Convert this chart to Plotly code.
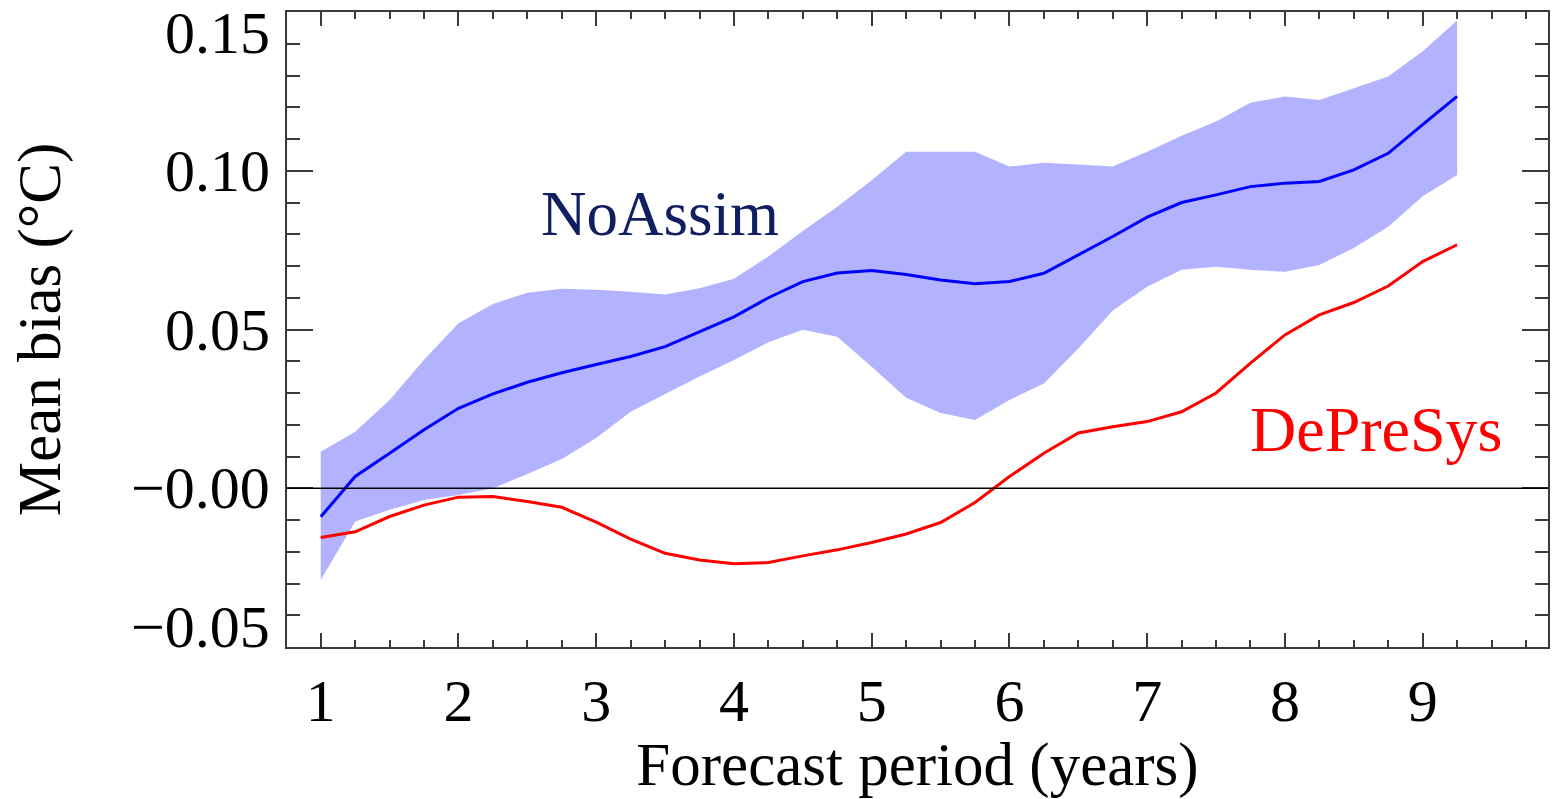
import plotly.graph_objects as go

# Forecast period (years), quarterly steps
periods = [1.0, 1.25, 1.5, 1.75, 2.0, 2.25, 2.5, 2.75, 3.0, 3.25, 3.5, 3.75,
           4.0, 4.25, 4.5, 4.75, 5.0, 5.25, 5.5, 5.75, 6.0, 6.25, 6.5, 6.75,
           7.0, 7.25, 7.5, 7.75, 8.0, 8.25, 8.5, 8.75, 9.0, 9.25]

# NoAssim ensemble mean bias (degC)
noassim_mean = [-0.009, 0.0037, 0.011, 0.0184, 0.0252, 0.0297, 0.0334, 0.0364,
                0.039, 0.0415, 0.0446, 0.0493, 0.054, 0.060, 0.0651, 0.0678,
                0.0686, 0.0673, 0.0656, 0.0644, 0.0651, 0.0677, 0.0735, 0.0793,
                0.0854, 0.0900, 0.0924, 0.0950, 0.0961, 0.0966, 0.1003, 0.1055,
                0.1145, 0.1234]

# NoAssim spread (upper / lower bounds)
noassim_upper = [0.0115, 0.0178, 0.0278, 0.0405, 0.052, 0.058, 0.0616, 0.0628,
                 0.0625, 0.0619, 0.061, 0.063, 0.066, 0.073, 0.081, 0.0887,
                 0.097, 0.106, 0.106, 0.106, 0.1013, 0.1025, 0.102, 0.1013,
                 0.106, 0.111, 0.1155, 0.1214, 0.1234, 0.1223, 0.126, 0.1297,
                 0.1376, 0.1473]
noassim_lower = [-0.0289, -0.0105, -0.0068, -0.0037, -0.0021, 0.0, 0.0045, 0.0092,
                 0.0158, 0.0241, 0.0297, 0.0352, 0.0404, 0.046, 0.0499, 0.0477,
                 0.0383, 0.0285, 0.0237, 0.0215, 0.0278, 0.033, 0.044, 0.056,
                 0.0635, 0.0688, 0.0698, 0.0688, 0.0682, 0.0703, 0.0757, 0.0824,
                 0.092, 0.0987]

# DePreSys mean bias (degC)
depresys_mean = [-0.0155, -0.0137, -0.0089, -0.0053, -0.0028, -0.0026, -0.0042, -0.006,
                 -0.0107, -0.016, -0.0205, -0.0226, -0.0238, -0.0234, -0.0213, -0.0194,
                 -0.0171, -0.0144, -0.0108, -0.0045, 0.0037, 0.011, 0.0174, 0.0194,
                 0.021, 0.0241, 0.030, 0.0394, 0.0483, 0.0546, 0.0585, 0.0637,
                 0.0714, 0.0767]

y_tick_vals = [-0.05, 0.0, 0.05, 0.10, 0.15]
y_tick_text = ["\u22120.05", "\u22120.00", "0.05", "0.10", "0.15"]
x_tick_vals = [1, 2, 3, 4, 5, 6, 7, 8, 9]
x_tick_text = ["1", "2", "3", "4", "5", "6", "7", "8", "9"]

FONT = "Liberation Serif, Times New Roman, serif"
AXIS_COLOR = "#3a3a3a"

fig = go.Figure()

# spread band
fig.add_trace(go.Scatter(x=periods, y=noassim_lower, mode="lines",
                         line=dict(width=0), hoverinfo="skip", showlegend=False))
fig.add_trace(go.Scatter(x=periods, y=noassim_upper, mode="lines",
                         line=dict(width=0), fill="tonexty",
                         fillcolor="rgb(178,178,255)", hoverinfo="skip",
                         showlegend=False))

fig.add_trace(go.Scatter(x=periods, y=noassim_mean, mode="lines",
                         line=dict(color="#0000ff", width=3), name="NoAssim",
                         showlegend=False))
fig.add_trace(go.Scatter(x=periods, y=depresys_mean, mode="lines",
                         line=dict(color="#ff0000", width=3), name="DePreSys",
                         showlegend=False))

# zero reference line
fig.add_shape(type="line", xref="paper", x0=0, x1=1, yref="y", y0=0, y1=0,
              line=dict(color="black", width=1.5), layer="above")

# y tick labels: end labels sit inside the frame
for v, t in zip(y_tick_vals, y_tick_text):
    shift = 0
    if v == max(y_tick_vals):
        shift = -21
    elif v == min(y_tick_vals):
        shift = 20
    fig.add_annotation(x=0, xref="paper", y=v, yref="y", text=t,
                       showarrow=False, xanchor="right", yanchor="middle",
                       xshift=-15, yshift=shift,
                       font=dict(family=FONT, size=60, color="black"))

# series labels
fig.add_annotation(x=3.46, y=0.0865, text="NoAssim", showarrow=False,
                   xanchor="center", yanchor="middle",
                   font=dict(family=FONT, size=63, color="#101e62"))
fig.add_annotation(x=8.66, y=0.0185, text="DePreSys", showarrow=False,
                   xanchor="center", yanchor="middle",
                   font=dict(family=FONT, size=64, color="#ff0000"))

fig.update_xaxes(range=[0.755, 9.91], tickvals=x_tick_vals, ticktext=x_tick_text,
                 ticks="inside", ticklen=14, tickwidth=2, tickcolor=AXIS_COLOR,
                 minor=dict(dtick=0.25, ticks="inside", ticklen=7, tickwidth=2,
                            tickcolor=AXIS_COLOR, showgrid=False),
                 showline=True, linecolor=AXIS_COLOR, linewidth=2, mirror="allticks",
                 showgrid=False, zeroline=False, ticklabelstandoff=0,
                 tickfont=dict(family=FONT, size=60, color="black"),
                 title=dict(text="Forecast period (years)", standoff=10,
                            font=dict(family=FONT, size=61, color="black")))
fig.update_yaxes(range=[-0.05, 0.15], tickvals=y_tick_vals, showticklabels=False,
                 ticks="inside", ticklen=26, tickwidth=2, tickcolor=AXIS_COLOR,
                 minor=dict(dtick=0.01, ticks="inside", ticklen=13, tickwidth=2,
                            tickcolor=AXIS_COLOR, showgrid=False),
                 showline=True, linecolor=AXIS_COLOR, linewidth=2, mirror="allticks",
                 showgrid=False, zeroline=False,
                 title=dict(text="Mean bias (\u00b0C)", standoff=205,
                            font=dict(family=FONT, size=61, color="black")))

fig.update_layout(width=1560, height=799,
                  margin=dict(l=287, r=12, t=12, b=152, autoexpand=False),
                  paper_bgcolor="white", plot_bgcolor="white")

fig.write_html("out.html")
